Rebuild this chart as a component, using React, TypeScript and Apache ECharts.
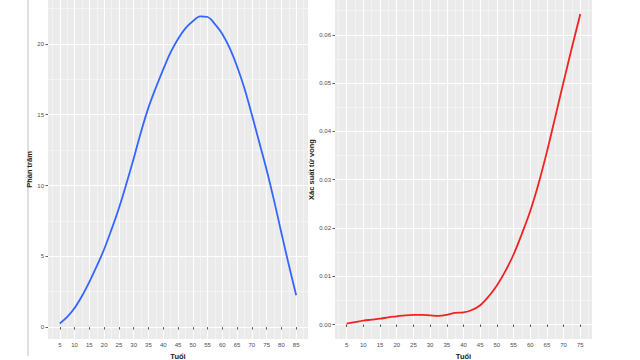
import React, { useEffect, useRef } from "react";
import * as echarts from "echarts";

const leftAges = [5, 7.5, 10, 12.5, 15, 17.5, 20, 22.5, 25, 27.5, 30, 32.5, 35, 37.5, 40, 42.5, 45, 47.5, 50, 52.5, 55, 57.5, 60, 62.5, 65, 67.5, 70, 72.5, 75, 77.5, 80, 82.5, 85];
const leftPercent = [0.25, 0.72, 1.35, 2.2, 3.2, 4.3, 5.5, 6.9, 8.4, 10.1, 11.9, 13.8, 15.5, 16.9, 18.2, 19.4, 20.35, 21.1, 21.6, 21.95, 21.9, 21.4, 20.7, 19.7, 18.4, 16.85, 15.0, 13.05, 11.1, 8.95, 6.65, 4.4, 2.25];

const rightAges = [5, 7.5, 10, 12.5, 15, 17.5, 20, 22.5, 25, 27.5, 30, 32.5, 35, 37.5, 40, 42.5, 45, 47.5, 50, 52.5, 55, 57.5, 60, 62.5, 65, 67.5, 70, 72.5, 75];
const rightProb = [0.0002, 0.0005, 0.0008, 0.001, 0.0012, 0.0015, 0.0017, 0.0019, 0.002, 0.002, 0.0019, 0.0018, 0.002, 0.0024, 0.0025, 0.003, 0.004, 0.0058, 0.0081, 0.011, 0.0145, 0.0188, 0.0235, 0.0292, 0.0358, 0.043, 0.0503, 0.0574, 0.0643];

const leftXTicks = [5, 10, 15, 20, 25, 30, 35, 40, 45, 50, 55, 60, 65, 70, 75, 80, 85];
const leftXMinor = [2.5, 7.5, 12.5, 17.5, 22.5, 27.5, 32.5, 37.5, 42.5, 47.5, 52.5, 57.5, 62.5, 67.5, 72.5, 77.5, 82.5, 87.5];
const leftYTicks = [0, 5, 10, 15, 20];
const leftYMinor = [2.5, 7.5, 12.5, 17.5, 22.5];

const rightXTicks = [5, 10, 15, 20, 25, 30, 35, 40, 45, 50, 55, 60, 65, 70, 75];
const rightXMinor = [2.5, 7.5, 12.5, 17.5, 22.5, 27.5, 32.5, 37.5, 42.5, 47.5, 52.5, 57.5, 62.5, 67.5, 72.5, 77.5];
const rightYTicks = [0, 0.01, 0.02, 0.03, 0.04, 0.05, 0.06];
const rightYMinor = [0.005, 0.015, 0.025, 0.035, 0.045, 0.055, 0.065];

const FONT = "Liberation Sans, Arial, sans-serif";
const TICK_COLOR = "#4D4D4D";

function majorAxis(gridIndex: number, min: number, max: number, ticks: number[], isY: boolean, name: string, nameGap: number, fmt?: (v: number) => string) {
  return {
    type: "value",
    gridIndex,
    min,
    max,
    position: isY ? "left" : "bottom",
    name,
    nameLocation: "middle",
    nameGap,
    nameTextStyle: { fontFamily: FONT, fontSize: 7.5, fontWeight: "bold", color: "#222" },
    axisLine: { show: false },
    axisTick: { show: true, length: 2.5, customValues: ticks, lineStyle: { color: "#333", width: 0.8 } },
    axisLabel: {
      show: true,
      customValues: ticks,
      margin: isY ? 4 : 3,
      fontFamily: FONT,
      fontSize: 6,
      color: TICK_COLOR,
      formatter: fmt ? (v: number) => fmt(v) : (v: number) => String(v),
    },
    splitLine: { show: true, lineStyle: { color: "#FFFFFF", width: 1.1 } },
  };
}

function minorAxis(gridIndex: number, min: number, max: number, ticks: number[], isY: boolean) {
  return {
    type: "value",
    gridIndex,
    min,
    max,
    position: isY ? "right" : "top",
    axisLine: { show: false },
    axisTick: { show: false, customValues: ticks },
    axisLabel: { show: false, customValues: ticks },
    splitLine: { show: true, lineStyle: { color: "#F8F8F8", width: 0.6 } },
  };
}

export default function App() {
  const ref = useRef<HTMLDivElement>(null);
  useEffect(() => {
    document.body.style.margin = "0";
    const chart = echarts.init(ref.current!, null, { renderer: "svg" });
    const leftData = leftAges.map((a, i) => [a, leftPercent[i]]);
    const rightData = rightAges.map((a, i) => [a, rightProb[i]]);
    chart.setOption({
      animation: false,
      backgroundColor: "#FFFFFF",
      grid: [
        { left: 48, top: 0, width: 260, height: 339, show: true, backgroundColor: "#EBEBEB", borderWidth: 0, containLabel: false, outerBoundsMode: "none" },
        { left: 335, top: 0, width: 257, height: 339, show: true, backgroundColor: "#EBEBEB", borderWidth: 0, containLabel: false, outerBoundsMode: "none" },
      ],
      xAxis: [
        majorAxis(0, 1, 89, leftXTicks, false, "Tuổi", 9),
        minorAxis(0, 1, 89, leftXMinor, false),
        majorAxis(1, 1.5, 78.5, rightXTicks, false, "Tuổi", 9),
        minorAxis(1, 1.5, 78.5, rightXMinor, false),
      ],
      yAxis: [
        majorAxis(0, -0.84, 23.1, leftYTicks, true, "Phần trăm", 8),
        minorAxis(0, -0.84, 23.1, leftYMinor, true),
        majorAxis(1, -0.003, 0.0672, rightYTicks, true, "Xác suất tử vong", 13, (v) => v.toFixed(2)),
        minorAxis(1, -0.003, 0.0672, rightYMinor, true),
      ],
      series: [
        {
          type: "line",
          xAxisIndex: 0,
          yAxisIndex: 0,
          data: leftData,
          smooth: 0.35,
          showSymbol: false,
          lineStyle: { color: "#3366FF", width: 1.8 },
          z: 5,
        },
        {
          type: "line",
          xAxisIndex: 2,
          yAxisIndex: 2,
          data: rightData,
          smooth: 0.35,
          showSymbol: false,
          lineStyle: { color: "#F02222", width: 1.8 },
          z: 5,
        },
      ],
      graphic: [
        {
          type: "line",
          shape: { x1: 28, y1: 0, x2: 28, y2: 356 },
          style: { stroke: "#D6D6D6", lineWidth: 1.5 },
        },
      ],
    });
    return () => chart.dispose();
  }, []);
  return <div ref={ref} style={{ width: 640, height: 360 }} />;
}
